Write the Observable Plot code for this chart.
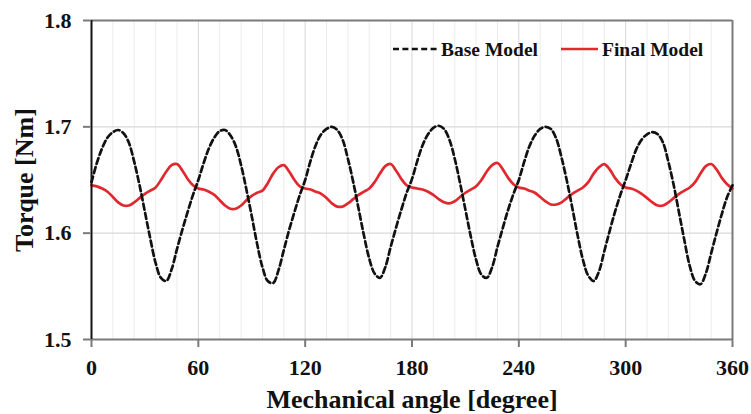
<!DOCTYPE html>
<html>
<head>
<meta charset="utf-8">
<script src="https://cdn.jsdelivr.net/npm/d3@7"></script>
<script src="https://cdn.jsdelivr.net/npm/@observablehq/plot@0.6"></script>
<style>
  html, body { margin: 0; padding: 0; background: #fff; }
  #wrap { position: relative; width: 751px; height: 414px; }
  #legend { position: absolute; left: 0; top: 0; pointer-events: none; }
</style>
</head>
<body>
<div id="wrap"></div>
<script>
// Mechanical angle samples [degree]
const angle = [
  0,3,6,9,12,15,18,21,24,27,30,33,36,39,42,45,48,51,54,57,
  60,63,66,69,72,75,78,81,84,87,90,93,96,99,102,105,108,111,114,117,
  120,123,126,129,132,135,138,141,144,147,150,153,156,159,162,165,168,171,174,177,
  180,183,186,189,192,195,198,201,204,207,210,213,216,219,222,225,228,231,234,237,
  240,243,246,249,252,255,258,261,264,267,270,273,276,279,282,285,288,291,294,297,
  300,303,306,309,312,315,318,321,324,327,330,333,336,339,342,345,348,351,354,357,
  360
];
// Torque of the Base Model [Nm]
const baseTorque = [
  1.648,1.666,1.680,1.690,1.695,1.697,1.694,1.685,1.667,1.645,1.620,1.595,1.572,1.558,1.555,1.566,1.585,1.603,1.620,1.636,
  1.650,1.666,1.680,1.690,1.696,1.697,1.692,1.682,1.664,1.641,1.616,1.590,1.568,1.555,1.553,1.565,1.584,1.603,1.620,1.636,
  1.650,1.668,1.683,1.693,1.698,1.700,1.697,1.688,1.670,1.648,1.623,1.598,1.576,1.562,1.558,1.568,1.587,1.605,1.622,1.638,
  1.651,1.668,1.683,1.693,1.699,1.701,1.698,1.688,1.670,1.647,1.622,1.597,1.575,1.561,1.558,1.568,1.587,1.605,1.622,1.637,
  1.650,1.667,1.682,1.692,1.698,1.700,1.698,1.689,1.671,1.649,1.624,1.598,1.575,1.560,1.555,1.564,1.583,1.602,1.620,1.636,
  1.650,1.665,1.679,1.688,1.693,1.695,1.693,1.685,1.667,1.645,1.619,1.593,1.569,1.555,1.552,1.562,1.581,1.600,1.618,1.634,
  1.645
];
// Torque of the Final Model [Nm]
const finalTorque = [
  1.645,1.644,1.642,1.639,1.634,1.629,1.626,1.626,1.629,1.633,1.637,1.640,1.643,1.650,1.658,1.664,1.665,1.659,1.651,1.645,
  1.642,1.641,1.639,1.636,1.631,1.626,1.623,1.623,1.626,1.631,1.635,1.638,1.640,1.647,1.656,1.662,1.664,1.658,1.650,1.644,
  1.642,1.641,1.639,1.637,1.633,1.628,1.625,1.625,1.628,1.632,1.636,1.639,1.642,1.648,1.656,1.663,1.665,1.659,1.651,1.645,
  1.643,1.642,1.641,1.639,1.636,1.632,1.629,1.628,1.630,1.634,1.638,1.641,1.644,1.650,1.658,1.664,1.666,1.660,1.652,1.646,
  1.643,1.642,1.640,1.638,1.634,1.630,1.627,1.627,1.629,1.633,1.637,1.640,1.643,1.648,1.656,1.662,1.665,1.660,1.652,1.646,
  1.643,1.642,1.640,1.637,1.633,1.629,1.626,1.626,1.629,1.633,1.637,1.640,1.643,1.648,1.656,1.663,1.665,1.660,1.652,1.646,
  1.642
];
const xTicks = [0, 60, 120, 180, 240, 300, 360];
const xMinorGrid = [12,24,36,48,72,84,96,108,132,144,156,168,192,204,216,228,252,264,276,288,312,324,336,348];
const xMajorGrid = [60, 120, 180, 240, 300];
const yTicks = [1.5, 1.6, 1.7, 1.8];
const yGrid = [1.6, 1.7];
const seriesNames = ["Base Model", "Final Model"];
const xTitle = "Mechanical angle [degree]";
const yTitle = "Torque [Nm]";

const data = angle.map((a, i) => ({a, base: baseTorque[i], fin: finalTorque[i]}));
const serif = "'Liberation Serif', 'Times New Roman', serif";

const chart = Plot.plot({
  width: 751,
  height: 414,
  marginLeft: 91,
  marginRight: 19,
  marginTop: 20,
  marginBottom: 75,
  style: {fontFamily: serif, fontWeight: "bold", color: "#111", background: "#fff", overflow: "visible"},
  x: {domain: [0, 360]},
  y: {domain: [1.5, 1.8]},
  marks: [
    Plot.ruleX(xMinorGrid, {stroke: "#ececec", strokeWidth: 1}),
    Plot.ruleX(xMajorGrid, {stroke: "#d6d6d6", strokeWidth: 1}),
    Plot.ruleY(yGrid, {stroke: "#d9d9d9", strokeWidth: 1.2}),
    Plot.ruleY([1.8], {stroke: "#7a7a7a", strokeWidth: 2}),
    Plot.ruleX([360], {stroke: "#7a7a7a", strokeWidth: 2}),
    Plot.line(data, {x: "a", y: "fin", stroke: "#e0282e", strokeWidth: 2.7, curve: "catmull-rom"}),
    Plot.line(data, {x: "a", y: "base", stroke: "#111", strokeWidth: 2.7, strokeDasharray: "6,3.4", curve: "catmull-rom"}),
    Plot.ruleY([1.5], {stroke: "#7a7a7a", strokeWidth: 2}),
    Plot.ruleX([0], {stroke: "#111", strokeWidth: 2}),
    Plot.axisX({ticks: xTicks, tickSize: 8, tickPadding: 12, stroke: "#7a7a7a", strokeWidth: 2, fill: "#111", fontSize: 22, fontWeight: "bold", label: null}),
    Plot.axisY({ticks: yTicks, tickSize: 8, tickPadding: 12, stroke: "#7a7a7a", strokeWidth: 2, fill: "#111", fontSize: 22, fontWeight: "bold", tickFormat: d3.format(".1f"), label: null}),
    Plot.text([xTitle], {frameAnchor: "bottom", textAnchor: "middle", dy: 68, fontSize: 26, fontWeight: "bold", fill: "#111"}),
    Plot.text([yTitle], {frameAnchor: "left", textAnchor: "middle", dx: -67, rotate: -90, fontSize: 26, fontWeight: "bold", fill: "#111"})
  ]
});

const wrap = document.getElementById("wrap");
wrap.appendChild(chart);

// Legend overlay (inside plot area, upper right)
const ns = "http://www.w3.org/2000/svg";
const leg = document.createElementNS(ns, "svg");
leg.setAttribute("id", "legend");
leg.setAttribute("width", 751);
leg.setAttribute("height", 80);
const items = [
  {name: seriesNames[0], x1: 393, x2: 437, tx: 441, stroke: "#111", dash: "6,3.4"},
  {name: seriesNames[1], x1: 561, x2: 598, tx: 602, stroke: "#e0282e", dash: null}
];
for (const it of items) {
  const ln = document.createElementNS(ns, "line");
  ln.setAttribute("x1", it.x1); ln.setAttribute("x2", it.x2);
  ln.setAttribute("y1", 49); ln.setAttribute("y2", 49);
  ln.setAttribute("stroke", it.stroke);
  ln.setAttribute("stroke-width", 2.6);
  if (it.dash) ln.setAttribute("stroke-dasharray", it.dash);
  leg.appendChild(ln);
  const tx = document.createElementNS(ns, "text");
  tx.setAttribute("x", it.tx); tx.setAttribute("y", 56);
  tx.setAttribute("font-family", serif);
  tx.setAttribute("font-weight", "bold");
  tx.setAttribute("font-size", 19.5);
  tx.setAttribute("fill", "#111");
  tx.textContent = it.name;
  leg.appendChild(tx);
}
wrap.appendChild(leg);
</script>
</body>
</html>
